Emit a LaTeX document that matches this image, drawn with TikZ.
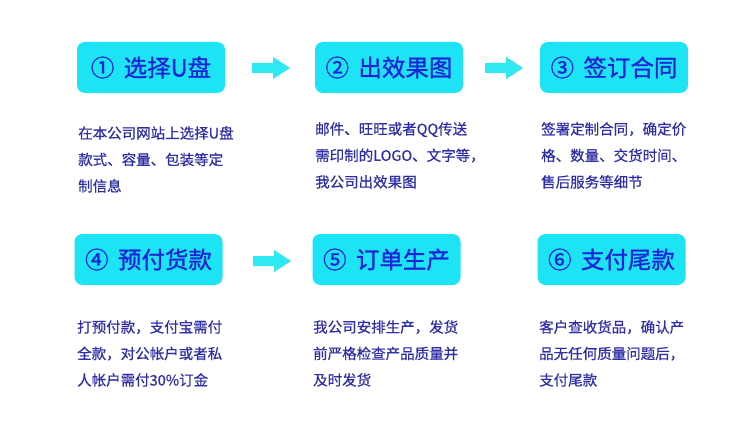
\documentclass[tikz,border=0pt]{standalone}
\usepackage{fontspec}
\newfontfamily\cjk[FakeBold=0.5]{Noto Sans CJK SC}
\newfontfamily\cjkt[FakeBold=1]{Noto Sans CJK SC}
\definecolor{boxcyan}{HTML}{1CE4F4}
\definecolor{titleblue}{HTML}{1E22D8}
\definecolor{desc}{HTML}{2E2EA6}
\definecolor{arrcyan}{HTML}{2EE8F2}
\tikzset{
  titlebox/.style={fill=boxcyan, rounded corners=8pt, minimum width=148pt, minimum height=51pt,
    inner sep=0pt, text=titleblue, font=\cjkt\fontsize{23.5}{26}\selectfont},
  blockarrow/.style={fill=arrcyan, draw=none},
  desctext/.style={anchor=north west, inner sep=0pt, align=left, text=desc,
    font=\cjk\fontsize{14.5}{26.5}\selectfont}
}
\newcommand{\blockarr}[1]{%
  \fill[blockarrow] (#1) ++(0,-5) -- ++(21,0) -- ++(0,-6) -- ++(17,11) -- ++(-17,11) -- ++(0,-6) -- ++(-21,0) -- cycle;}
\begin{document}
\begin{tikzpicture}[x=1pt,y=-1pt]
\useasboundingbox[fill=white] (0,0) rectangle (750,425);
% row 1
\node[titlebox] (b1) at (151,67.5) {①\hspace{0.4em}选择U盘};
\node[titlebox] (b2) at (389,67.5) {②\hspace{0.4em}出效果图};
\node[titlebox] (b3) at (614,67.5) {③\hspace{0.4em}签订合同};
\coordinate (a1) at (252,68);
\coordinate (a2) at (485,68);
\blockarr{a1}
\blockarr{a2}
% row 2
\node[titlebox] (b4) at (148.5,259.5) {④\hspace{0.4em}预付货款};
\node[titlebox] (b5) at (386.5,259.5) {⑤\hspace{0.4em}订单生产};
\node[titlebox] (b6) at (611.5,259.5) {⑥\hspace{0.4em}支付尾款};
\coordinate (a3) at (253,261);
\blockarr{a3}
% descriptions
\node[desctext] (d1) at (78,126) {在本公司网站上选择U盘\\款式、容量、包装等定\\制信息};
\node[desctext] (d2) at (315,122) {邮件、旺旺或者QQ传送\\需印制的LOGO、文字等，\\我公司出效果图};
\node[desctext] (d3) at (541,122) {签署定制合同，确定价\\格、数量、交货时间、\\售后服务等细节};
\node[desctext] (d4) at (77,320) {打预付款，支付宝需付\\全款，对公帐户或者私\\人帐户需付30\%订金};
\node[desctext] (d5) at (313,320) {我公司安排生产，发货\\前严格检查产品质量并\\及时发货};
\node[desctext] (d6) at (539,320) {客户查收货品，确认产\\品无任何质量问题后，\\支付尾款};
\end{tikzpicture}
\end{document}
